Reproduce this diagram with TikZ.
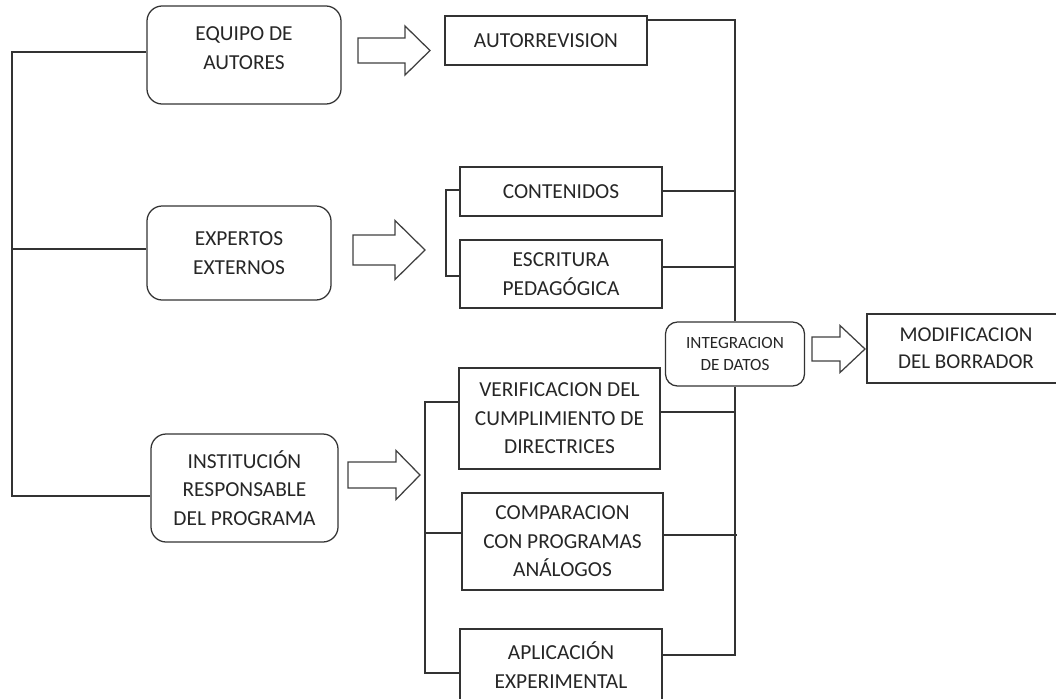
\documentclass[tikz,border=0pt]{standalone}
\usepackage{fontspec}
\setmainfont{Carlito}
\usepackage{tikz}

\tikzset{
	box/.style={draw=black!80, line width=0.9pt, inner sep=0pt, align=center,
		text=black!85, font=\fontsize{15.2}{20.3}\selectfont},
	rbox/.style={box, rounded corners=0.38cm},
	conn/.style={draw=black!80, line width=0.9pt},
	fat/.style={draw=black!75, line width=0.9pt, fill=white, line join=miter}
}
% hollow block arrow: tail x, head x, tip x, mid y, shaft half, head half
\newcommand{\fatarrow}[6]{%
	\draw[fat] (#1,#4-#5) -- (#2,#4-#5) -- (#2,#4-#6) -- (#3,#4)
		-- (#2,#4+#6) -- (#2,#4+#5) -- (#1,#4+#5) -- cycle;}

\begin{document}
\begin{tikzpicture}[x=0.025cm, y=-0.025cm]
	\clip (0,0) rectangle (1056,698);

	% left column
	\node[rbox, minimum width=4.85cm, minimum height=2.45cm,
		label={[align=center, text=black!85, font=\fontsize{15.2}{20.3}\selectfont, yshift=0.17cm]center:EQUIPO DE\\AUTORES}]
		(equipo) at (244,55) {};
	\node[rbox, minimum width=4.6cm, minimum height=2.35cm] (expertos) at (239,253) {EXPERTOS\\EXTERNOS};
	\node[rbox, minimum width=4.675cm, minimum height=2.7cm] (institucion) at (244.5,488) {INSTITUCIÓN\\RESPONSABLE\\DEL PROGRAMA};

	% middle column
	\node[box, minimum width=5.05cm, minimum height=1.225cm] (autorrevision) at (546,40.5) {AUTORREVISION};
	\node[box, minimum width=5.05cm, minimum height=1.225cm] (contenidos) at (561,191.5) {CONTENIDOS};
	\node[box, minimum width=5.05cm, minimum height=1.7cm] (escritura) at (561,274) {ESCRITURA\\PEDAGÓGICA};
	\node[box, minimum width=5.025cm, minimum height=2.525cm] (verificacion) at (559.5,418.5) {VERIFICACION DEL\\CUMPLIMIENTO DE\\DIRECTRICES};
	\node[box, minimum width=5.025cm, minimum height=2.425cm] (comparacion) at (562.5,541.5) {COMPARACION\\CON PROGRAMAS\\ANÁLOGOS};
	\node[box, minimum width=5.05cm, minimum height=1.8cm] (aplicacion) at (561,665) {APLICACIÓN\\EXPERIMENTAL};

	% right part
	\node[rbox, rounded corners=0.3cm, minimum width=3.475cm, minimum height=1.6cm,
		font=\fontsize{12.2}{16}\selectfont] (integracion) at (735,354) {INTEGRACION\\DE DATOS};
	\node[box, minimum width=4.95cm, minimum height=1.725cm,
		font=\fontsize{15}{19.5}\selectfont] (modificacion) at (966,348.5) {MODIFICACION\\DEL BORRADOR};

	\coordinate (lbus) at (12,0);
	\coordinate (rbus) at (735,0);

	% left bus
	\draw[conn] (equipo.west |- 0,52) -| (lbus |- 0,496) -- (institucion.west |- 0,496);
	\draw[conn] (lbus |- 0,249) -- (expertos.west |- 0,249);

	% brackets
	\draw[conn] (contenidos.west |- 0,190) -| (446,276) -- (escritura.west |- 0,276);
	\draw[conn] (verificacion.west |- 0,402) -| (425,673) -- (aplicacion.west |- 0,673);
	\draw[conn] (425,533) -- (comparacion.west |- 0,533);

	% right bus
	\draw[conn] (autorrevision.east |- 0,20) -| (integracion.north);
	\draw[conn] (integracion.south) -- (rbus |- 0,655) -- (aplicacion.east |- 0,655);
	\draw[conn] (contenidos.east |- 0,191) -- (rbus |- 0,191);
	\draw[conn] (escritura.east |- 0,267) -- (rbus |- 0,267);
	\draw[conn] (verificacion.east |- 0,412) -- (rbus |- 0,412);
	\draw[conn] (comparacion.east |- 0,535) -- (737,535);

	% block arrows
	\fatarrow{358}{405}{430}{50.5}{12.5}{24.5}
	\fatarrow{353}{395}{425}{250}{15}{29.5}
	\fatarrow{348}{396}{420}{475}{13}{24.5}
	\fatarrow{812}{840}{865}{349}{12}{23.5}
\end{tikzpicture}
\end{document}
